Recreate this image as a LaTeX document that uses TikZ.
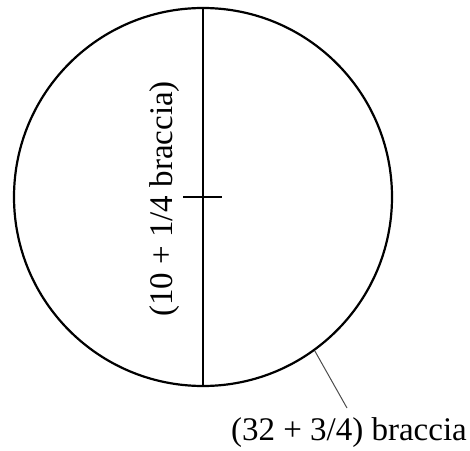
\documentclass[tikz,border=0pt]{standalone}
\usepackage{fontspec}
\setmainfont{Liberation Serif}
\begin{document}
\begin{tikzpicture}[x=1pt,y=1pt,
  thick line/.style={line width=2.2pt},
  leader/.style={line width=1pt, draw=black!70},
  lbl/.style={font=\fontsize{33}{36}\selectfont, inner sep=0pt}]
\useasboundingbox (0,0) rectangle (470,450);
\coordinate (c) at (203,253);
\node[draw, circle, thick line, minimum size=378pt, inner sep=0pt] (circ) at (c) {};
\draw[thick line] (circ.north) -- (circ.south);
\coordinate (tl) at (183,253);
\coordinate (tr) at (222,253);
\draw[thick line] (tl) -- (tr);
\node[lbl, rotate=90] (dlabel) at (165,251) {(10 + 1/4 braccia)};
\node[lbl, anchor=base east] (clabel) at (467,10) {(32 + 3/4) braccia};
\coordinate (lend) at (347,42);
\draw[leader] (circ.-54.7) -- (lend);
\end{tikzpicture}
\end{document}
